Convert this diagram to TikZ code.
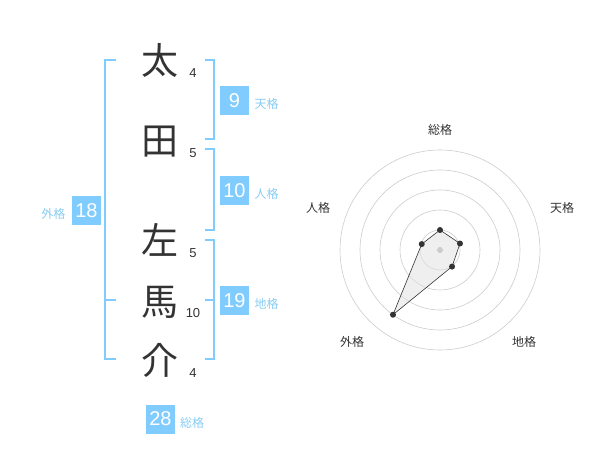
\documentclass[tikz,border=0pt]{standalone}
\usepackage{fontspec}
\setmainfont{Liberation Sans}
\newfontfamily\jp{Noto Sans CJK JP}
\definecolor{sky}{HTML}{80CCFF}
\definecolor{skytext}{HTML}{88CCF4}
\definecolor{ink}{HTML}{333333}
\begin{document}
\begin{tikzpicture}[x=1pt,y=-1pt,
  kanji/.style={text=ink,inner sep=0,font=\jp\fontsize{37}{37}\selectfont},
  strokes/.style={text=ink,inner sep=0,font=\fontsize{13}{13}\selectfont},
  score/.style={fill=sky,text=white,minimum size=29pt,inner sep=0,font=\fontsize{20}{20}\selectfont},
  kaku/.style={text=skytext,inner sep=0,font=\jp\fontsize{12}{12}\selectfont},
  bracket/.style={draw=sky,line width=1.8pt},
  ring/.style={draw=black!20,line width=0.6pt},
  dot/.style={circle,fill=ink,inner sep=0,minimum size=6pt},
  axis/.style={text=ink,inner sep=0,font=\jp\fontsize{12}{12}\selectfont}]
\useasboundingbox (0,0) rectangle (600,470);
\begin{scope}
\node[kanji] (k1) at (160,60) {太};
\node[kanji] (k2) at (160,142) {田};
\node[kanji] (k3) at (160,240) {左};
\node[kanji] (k4) at (160,302) {馬};
\node[kanji] (k5) at (160,360) {介};
\node[strokes] (s1) at (193,73) {4};
\node[strokes] (s2) at (193,153) {5};
\node[strokes] (s3) at (193,253) {5};
\node[strokes] (s4) at (193,313) {10};
\node[strokes] (s5) at (193,373) {4};
\coordinate (lt) at (105,60);
\coordinate (lm) at (105,300);
\coordinate (lb) at (105,359);
\coordinate (t1) at (214,60);
\coordinate (t2) at (214,139);
\coordinate (j1) at (214,149);
\coordinate (j2) at (214,230);
\coordinate (c1) at (214,240);
\coordinate (c2) at (214,300);
\coordinate (c3) at (214,359);
\path[bracket] ([xshift=11pt]lt) -- (lt) -- (lb) -- ([xshift=11pt]lb);
\path[bracket] (lm) -- ([xshift=11pt]lm);
\path[bracket] ([xshift=-9pt]t1) -- (t1) -- (t2) -- ([xshift=-9pt]t2);
\path[bracket] ([xshift=-9pt]j1) -- (j1) -- (j2) -- ([xshift=-9pt]j2);
\path[bracket] ([xshift=-9pt]c1) -- (c1) -- (c3) -- ([xshift=-9pt]c3);
\path[bracket] ([xshift=-9pt]c2) -- (c2);
\node[score] (b1) at (234.5,100.5) {9};
\node[kaku] (n1) at (266.5,104) {天格};
\node[score] (b2) at (234.5,190.5) {10};
\node[kaku] (n2) at (266.5,194) {人格};
\node[score] (b3) at (234.5,300.5) {19};
\node[kaku] (n3) at (266.5,304) {地格};
\node[score] (b4) at (86.5,210.5) {18};
\node[kaku] (n4) at (53.5,214) {外格};
\node[score] (b5) at (160.5,419) {28};
\node[kaku] (n5) at (192,423) {総格};
\end{scope}
\begin{scope}[shift={(440,250)},yscale=-1]
\foreach \r in {20,40,...,100}
  \path[ring] (0,0) circle (\r pt);
\foreach \a/\r [count=\i] in {90/20,18/21,-54/20.5,234/80,162/19.2}
  \coordinate (v\i) at (\a:\r);
\path[fill=black!12,fill opacity=0.5] (v1) -- (v2) -- (v3) -- (v4) -- (v5) -- cycle;
\path[fill=black!20] (0,0) circle (3pt);
\path[draw=ink,line width=0.6pt] (v1) -- (v2) -- (v3) -- (v4) -- (v5) -- cycle;
\foreach \i in {1,...,5}
  \node[dot] (d\i) at (v\i) {};
\end{scope}
\node[axis] (a1) at (440,130) {総格};
\node[axis] (a2) at (562,208) {天格};
\node[axis] (a3) at (524,342) {地格};
\node[axis] (a4) at (352,342) {外格};
\node[axis] (a5) at (318,208) {人格};
\end{tikzpicture}
\end{document}
